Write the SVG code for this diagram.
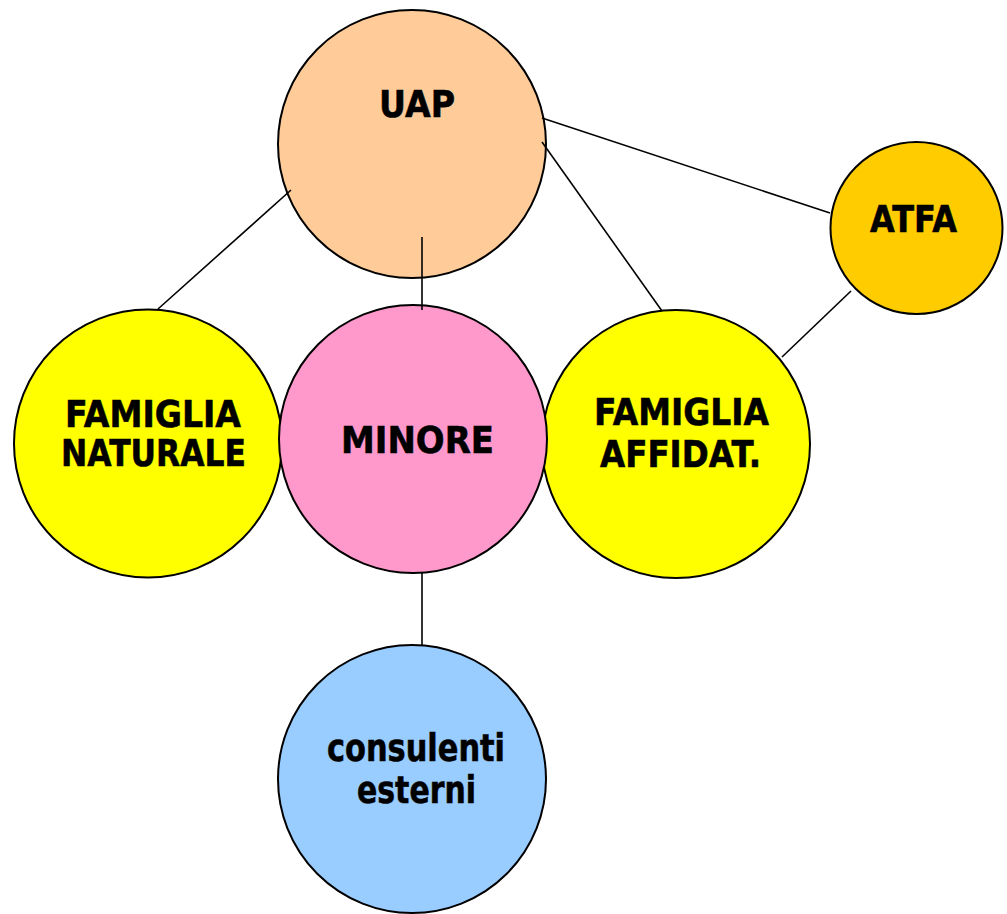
<svg xmlns="http://www.w3.org/2000/svg" width="1007" height="914" viewBox="0 0 1007 914">
<style>
.n{stroke:#000;stroke-width:2}
.t{font-family:"DejaVu Sans",Verdana,sans-serif;font-weight:bold;font-size:37px;text-anchor:middle;fill:#000;stroke:#000;stroke-width:0.6}
.c line{stroke:#000;stroke-width:1.6}
</style>
<rect width="1007" height="914" fill="#fff"/>
<g id="uap"><circle class="n" cx="412" cy="144" r="134" fill="#FFCC99"/><text class="t" x="417" y="117" textLength="76" lengthAdjust="spacingAndGlyphs">UAP</text></g>
<g id="atfa"><circle class="n" cx="916.5" cy="228" r="86" fill="#FFCC00"/><text class="t" x="913.5" y="232" textLength="87" lengthAdjust="spacingAndGlyphs">ATFA</text></g>
<g id="famiglia-naturale"><circle class="n" cx="148" cy="443.5" r="134" fill="#FFFF00"/><text class="t" x="153" y="427" textLength="176" lengthAdjust="spacingAndGlyphs">FAMIGLIA</text><text class="t" x="153.5" y="466" textLength="185" lengthAdjust="spacingAndGlyphs">NATURALE</text></g>
<g id="famiglia-affidat"><circle class="n" cx="676" cy="444" r="134" fill="#FFFF00"/><text class="t" x="681.5" y="425" textLength="175" lengthAdjust="spacingAndGlyphs">FAMIGLIA</text><text class="t" x="680.5" y="467" textLength="161" lengthAdjust="spacingAndGlyphs">AFFIDAT.</text></g>
<g id="minore"><circle class="n" cx="413" cy="439" r="134" fill="#FF99CC"/><text class="t" x="417.5" y="453" textLength="153" lengthAdjust="spacingAndGlyphs">MINORE</text></g>
<g id="consulenti-esterni"><circle class="n" cx="412" cy="779" r="134" fill="#99CCFF"/><text class="t" x="416" y="761" textLength="178" lengthAdjust="spacingAndGlyphs">consulenti</text><text class="t" x="416.5" y="803" textLength="119" lengthAdjust="spacingAndGlyphs">esterni</text></g>
<g id="connectors" class="c">
<line x1="291" y1="190" x2="158" y2="309"/>
<line x1="422" y1="237" x2="422" y2="310"/>
<line x1="542" y1="118" x2="830" y2="213"/>
<line x1="542" y1="142" x2="662" y2="311"/>
<line x1="851" y1="291" x2="782" y2="357"/>
<line x1="422" y1="573" x2="422" y2="645"/>
</g>
</svg>
